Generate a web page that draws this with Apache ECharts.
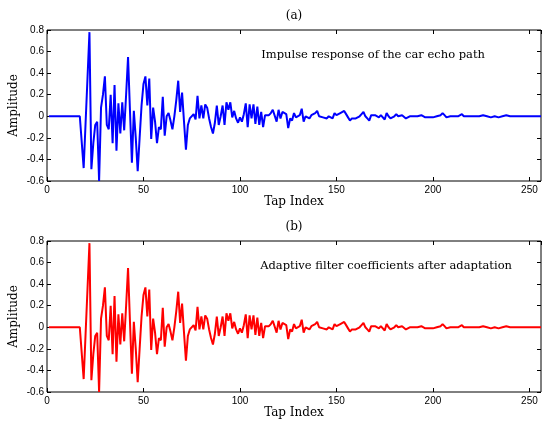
<!DOCTYPE html>
<html>
<head>
<meta charset="utf-8">
<script src="https://cdn.jsdelivr.net/npm/echarts@6/dist/echarts.min.js"></script>
<style>
  html, body { margin: 0; padding: 0; background: #fff; }
  #chart { width: 543px; height: 421px; }
</style>
</head>
<body>
<div id="chart"></div>
<script>
// tap index 1..256
var echoPath = [
  0, 0, 0, 0, 0, 0, 0, 0, 0, 0,
  0, 0, 0, 0, 0, 0, 0, 0, -0.48, -0.06,
  0.36, 0.78, -0.49, -0.25, -0.08, -0.05, -0.6, 0.08, 0.2, 0.37,
  -0.08, -0.12, 0.2, -0.25, 0.29, -0.32, 0.12, -0.16, 0.13, -0.13,
  0.2, 0.55, 0.05, -0.43, 0.05, -0.2, -0.51, -0.2, 0.1, 0.3,
  0.37, 0.1, 0.35, -0.21, 0.08, -0.05, -0.25, -0.1, -0.12, 0.18,
  -0.18, 0.0, 0.03, -0.04, -0.12, 0.0, 0.15, 0.33, 0.04, 0.22,
  -0.05, -0.31, -0.08, -0.02, -0.03, 0.02, -0.03, 0.19, -0.02, 0.1,
  -0.02, 0.11, 0.08, -0.02, -0.1, -0.16, -0.06, 0.1, -0.08, 0.0,
  0.1, -0.08, 0.13, 0.06, 0.13, -0.01, 0.05, -0.02, -0.06, -0.01,
  -0.05, 0.02, 0.12, -0.1, 0.11, -0.02, 0.11, -0.07, 0.09, -0.08,
  0.04, -0.1, 0.01, 0.0, 0.01, 0.03, 0.06, 0.07, -0.05, 0.06,
  -0.02, 0.04, 0.03, 0.02, -0.11, -0.02, -0.04, 0.03, -0.01, 0.0,
  0.01, 0.07, -0.05, 0.0, 0.01, -0.02, 0.01, 0.02, 0.03, 0.05,
  0.0, -0.01, -0.01, -0.02, -0.02, 0.0, 0.01, -0.02, 0.03, 0.01,
  0.01, 0.03, 0.04, 0.05, 0.02, -0.01, -0.04, -0.02, -0.01, -0.02,
  -0.01, 0.0, 0.02, 0.04, 0.0, -0.02, -0.04, 0.01, 0.0, 0.01,
  0.02, -0.01, 0.01, 0.0, -0.03, 0.03, 0.0, -0.02, -0.01, 0.0,
  0.02, 0.0, -0.01, 0.01, 0.02, -0.02, -0.01, 0.0, -0.01, 0.0,
  0.0, 0.0, 0.0, 0.01, 0.02, -0.01, 0.0, -0.01, 0.0, -0.01,
  0.0, 0.0, 0.0, 0.01, 0.03, 0.01, -0.01, -0.02, 0.0, -0.01,
  0.0, 0.01, 0.0, 0.01, 0.02, 0.0, -0.01, 0.0, -0.01, 0.0,
  0.0, 0.0, 0.0, 0.0, 0.0, 0.01, 0.01, 0.0, 0.0, -0.01,
  0.0, 0.0, -0.01, -0.01, -0.01, 0.0, 0.01, 0.01, 0.0, 0.0,
  0.01, 0.0, -0.01, 0.0, 0.0, 0.0, 0.0, 0.0, 0.0, 0.0,
  0.0, 0.0, 0.0, 0.0, 0.0, 0.0
];
// adaptive filter ends up on the echo path
var adaptedCoefs = echoPath.slice();

var panels = [
  { label: '(a)', note: 'Impulse response of the car echo path', color: '#0000ff', data: echoPath, top: 30 },
  { label: '(b)', note: 'Adaptive filter coefficients after adaptation', color: '#ff0000', data: adaptedCoefs, top: 241 }
];

var serif = 'DejaVu Serif';
var sans = 'Liberation Sans';

function toPairs(arr) {
  return arr.map(function (v, i) { return [i + 1, v]; });
}

var grids = [], xAxes = [], yAxes = [], series = [], graphics = [];

panels.forEach(function (p, k) {
  grids.push({
    left: 47, right: 2, top: p.top, height: 151,
    containLabel: false, outerBoundsMode: 'none',
    show: true, borderColor: '#000', borderWidth: 1, backgroundColor: 'transparent'
  });
  // bottom x axis
  xAxes.push({
    type: 'value', gridIndex: k, min: 0, max: 256, interval: 50,
    name: 'Tap Index', nameLocation: 'middle', nameGap: 15, nameMoveOverlap: false,
    nameTextStyle: { fontFamily: serif, fontSize: 12, color: '#000' },
    axisLine: { show: false, onZero: false },
    axisTick: { show: true, inside: true, length: 4, lineStyle: { color: '#000' } },
    axisLabel: { fontFamily: sans, fontSize: 10, color: '#000', margin: 4, showMaxLabel: false },
    splitLine: { show: false }
  });
  // top mirror ticks
  xAxes.push({
    type: 'value', gridIndex: k, position: 'top', min: 0, max: 256, interval: 50,
    axisLine: { show: false, onZero: false },
    axisTick: { show: true, inside: true, length: 4, lineStyle: { color: '#000' } },
    axisLabel: { show: false },
    splitLine: { show: false }
  });
  yAxes.push({
    type: 'value', gridIndex: k, min: -0.6, max: 0.8, interval: 0.2,
    name: 'Amplitude', nameLocation: 'middle', nameGap: 27, nameMoveOverlap: false,
    nameTextStyle: { fontFamily: serif, fontSize: 12, color: '#000' },
    axisLine: { show: false, onZero: false },
    axisTick: { show: true, inside: true, length: 4, lineStyle: { color: '#000' } },
    axisLabel: {
      fontFamily: sans, fontSize: 10, color: '#000', margin: 3,
      formatter: function (v) { return String(Math.round(v * 10) / 10); }
    },
    splitLine: { show: false }
  });
  yAxes.push({
    type: 'value', gridIndex: k, position: 'right', min: -0.6, max: 0.8, interval: 0.2,
    axisLine: { show: false, onZero: false },
    axisTick: { show: true, inside: true, length: 4, lineStyle: { color: '#000' } },
    axisLabel: { show: false },
    splitLine: { show: false }
  });
  series.push({
    type: 'line', xAxisIndex: k * 2, yAxisIndex: k * 2,
    data: toPairs(p.data), showSymbol: false, symbol: 'none',
    lineStyle: { color: p.color, width: 2 },
    animation: false
  });
  graphics.push({
    type: 'text', x: 294, y: p.top - 14,
    style: { text: p.label, font: '12px "' + serif + '"', fill: '#000', textAlign: 'center', textVerticalAlign: 'middle' }
  });
  graphics.push({
    type: 'text', x: k === 0 ? 485 : 512, y: p.top + 25,
    style: { text: p.note, font: '11.5px "' + serif + '"', fill: '#000', textAlign: 'right', textVerticalAlign: 'middle' }
  });
});

var chart = echarts.init(document.getElementById('chart'));
chart.setOption({
  animation: false,
  backgroundColor: '#fff',
  grid: grids,
  xAxis: xAxes,
  yAxis: yAxes,
  series: series,
  graphic: graphics
});
</script>
</body>
</html>
